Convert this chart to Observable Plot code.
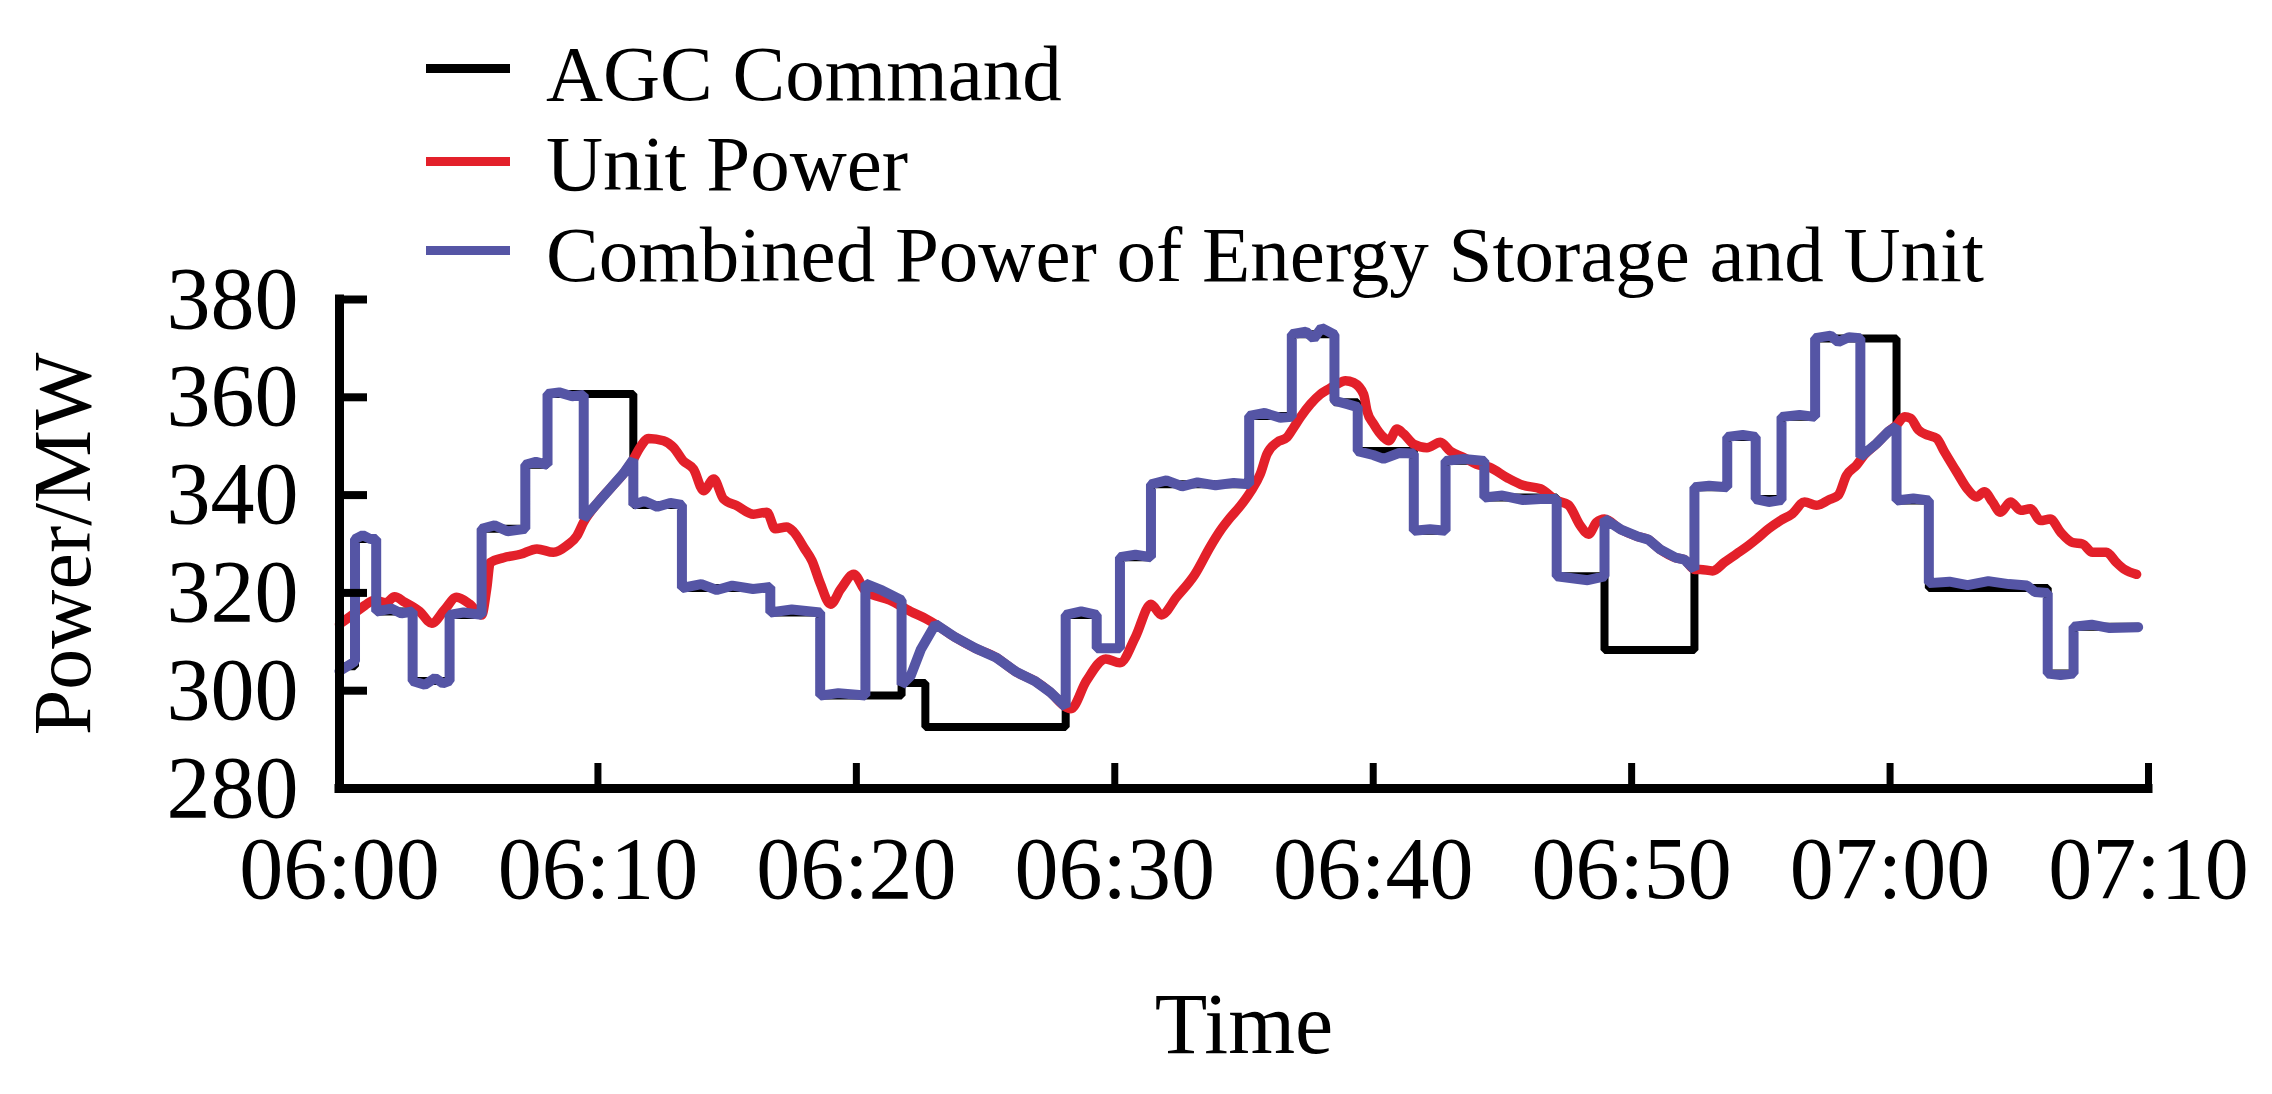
<!DOCTYPE html>
<html><head><meta charset="utf-8">
<script src="https://cdn.jsdelivr.net/npm/d3@7"></script>
<script src="https://cdn.jsdelivr.net/npm/@observablehq/plot@0.6"></script>
<style>
html,body{margin:0;padding:0;background:#fff;}
#wrap{position:relative;width:2272px;height:1094px;font-family:"Liberation Serif","Times New Roman",serif;overflow:hidden;}
#chart{position:absolute;left:0;top:0;}
.sw{position:absolute;left:426px;width:84px;height:9px;}
.lt{position:absolute;left:546px;font-size:79px;line-height:80px;white-space:nowrap;color:#000;}
</style></head><body>
<div id="wrap"><div id="chart"></div><div id="legend"></div></div>
<script>
// ---- tick labels ----
const xTicks = [0, 10, 20, 30, 40, 50, 60, 70];
const xTickLabels = ["06:00", "06:10", "06:20", "06:30", "06:40", "06:50", "07:00", "07:10"];
const yTicks = [280, 300, 320, 340, 360, 380];

// ---- series names / colours ----
const seriesNames = ["AGC Command", "Unit Power", "Combined Power of Energy Storage and Unit"];
const seriesColors = ["#000000", "#e3202a", "#5555a5"];

// ---- AGC command (step function, minutes after 06:00) ----
const agcTime  = [0, 0.6, 1.42, 2.83, 4.26, 5.5, 7.19, 8.05, 11.37, 13.25, 16.67, 18.6, 21.75, 22.67, 28.1, 29.3, 30.2, 31.4, 35.2, 36.85, 38.5, 39.4, 41.57, 42.8, 44.3, 47.1, 48.95, 52.43, 53.7, 54.8, 55.8, 57.1, 60.25, 61.5, 66.1, 67.1, 69.6];
const agcValue = [305, 331, 316.2, 302, 315.5, 333.1, 346.2, 360.7, 338, 321, 316, 299, 301.6, 292.6, 315.5, 308.7, 327.3, 342.2, 356.2, 372.9, 359, 349, 332.7, 347, 339.5, 323.4, 308.3, 341.6, 351.9, 339.2, 356, 372, 338.9, 321, 303.5, 313.1, 313.1];

// ---- Unit power ----
const unitTime  = [0, 0.5, 1.0, 1.36, 1.8, 2.13, 2.52, 3.1, 3.57, 4.07, 4.53, 5.04, 5.5, 5.7, 5.83, 6.35, 7.0, 7.64, 8.28, 8.8, 9.19, 9.45, 10.0, 10.5, 11.0, 11.37, 11.6, 11.96, 12.54, 12.93, 13.3, 13.7, 14.09, 14.48, 14.86, 15.38, 16.02, 16.54, 16.86, 17.3, 17.57, 18.0, 18.28, 18.6, 19.0, 19.4, 19.9, 20.35, 21.3, 22.1, 22.7, 23.06, 23.8, 24.6, 25.4, 26.2, 26.9, 27.5, 28.1, 28.3, 28.9, 29.65, 30.2, 30.8, 31.4, 31.8, 32.4, 33.1, 33.7, 34.08, 34.47, 34.86, 35.24, 35.63, 35.89, 36.28, 36.66, 36.92, 37.18, 37.57, 37.95, 38.28, 38.6, 38.92, 39.24, 39.63, 39.76, 40.02, 40.4, 40.6, 40.92, 41.18, 41.57, 42.08, 42.6, 42.98, 43.5, 44.0, 44.5, 45.2, 45.8, 46.47, 47.09, 47.55, 48.02, 48.33, 48.64, 48.95, 49.57, 50.2, 50.65, 51.1, 51.7, 52.04, 52.43, 52.66, 53.13, 53.6, 54.06, 54.52, 54.83, 55.3, 55.76, 56.22, 56.69, 57.15, 57.62, 58.0, 58.31, 58.7, 59.0, 59.47, 59.94, 60.25, 60.56, 60.79, 61.1, 61.49, 61.8, 62.1, 62.57, 63.03, 63.34, 63.65, 63.96, 64.27, 64.66, 65.05, 65.43, 65.82, 66.2, 66.6, 67.06, 67.45, 67.83, 68.37, 68.76, 69.07, 69.54];
const unitValue = [313.6, 315.5, 317.5, 318.5, 318, 319.2, 318.1, 316.2, 313.8, 316.6, 319.1, 317.7, 315.5, 321, 326.2, 327.2, 327.9, 329, 328.3, 329.7, 331.7, 334.5, 338.5, 341.5, 344.5, 347.3, 349.5, 351.6, 351.1, 349.7, 347, 345.3, 340.9, 343.3, 339.2, 337.8, 336.1, 336.5, 333.1, 333.5, 332.5, 329, 326.6, 322, 317.7, 320.8, 323.8, 320.4, 318.5, 316.2, 314.7, 313.6, 311, 308.7, 306.8, 303.8, 302, 299.7, 296.7, 296.3, 302, 306.5, 305.7, 311, 317.7, 315.5, 319.2, 323.8, 329.5, 332.7, 335.4, 337.8, 340.6, 344.3, 348.4, 350.8, 351.8, 353.8, 355.9, 358.6, 360.6, 361.7, 362.7, 363.4, 363, 360.6, 357.2, 354.5, 351.8, 351.1, 353.5, 352.5, 350.4, 349.7, 350.8, 349, 347.7, 346.3, 345.7, 343.5, 342, 341.3, 338.9, 338, 333.7, 332, 334.4, 335.1, 333, 331.6, 330.9, 328.9, 327.2, 326.8, 324.8, 324.8, 324.5, 326.3, 328, 329.7, 331, 333.1, 334.8, 336.2, 338.6, 337.9, 339, 340, 344, 346.1, 348.2, 350.5, 353, 354.3, 356, 355.7, 353.3, 352.2, 351.6, 348.9, 344.8, 341, 339.6, 340.7, 338.6, 336.5, 338.6, 336.9, 337.2, 334.8, 335.1, 332.4, 330.3, 330, 328.3, 328.3, 326.2, 324.8, 323.8];

// ---- Combined power of energy storage and unit ----
const combTime  = [0, 0.3, 0.6, 0.6, 0.9, 1.2, 1.42, 1.42, 2.0, 2.4, 2.83, 2.83, 3.3, 3.7, 4.0, 4.26, 4.26, 4.8, 5.5, 5.5, 6.0, 6.5, 7.19, 7.19, 7.6, 8.05, 8.05, 8.5, 9.0, 9.45, 9.45, 10.0, 10.5, 11.0, 11.37, 11.37, 11.8, 12.3, 12.8, 13.25, 13.25, 14.0, 14.6, 15.2, 16.0, 16.67, 16.67, 17.5, 18.6, 18.6, 19.3, 20.35, 20.35, 21.0, 21.75, 21.75, 22.1, 22.5, 23.06, 23.8, 24.6, 25.4, 26.2, 26.9, 27.5, 28.1, 28.1, 28.7, 29.3, 29.3, 30.2, 30.2, 30.8, 31.4, 31.4, 32.0, 32.6, 33.2, 33.9, 34.6, 35.2, 35.2, 35.8, 36.4, 36.85, 36.85, 37.4, 37.7, 38.0, 38.5, 38.5, 39.0, 39.4, 39.4, 40.0, 40.4, 41.0, 41.57, 41.57, 42.2, 42.8, 42.8, 43.5, 44.3, 44.3, 45.0, 45.8, 46.47, 47.1, 47.1, 47.7, 48.3, 48.95, 48.95, 49.57, 50.2, 50.65, 51.1, 51.7, 52.04, 52.43, 52.43, 53.0, 53.7, 53.7, 54.3, 54.8, 54.8, 55.3, 55.8, 55.8, 56.5, 57.1, 57.1, 57.7, 58.0, 58.4, 58.85, 58.85, 59.47, 59.94, 60.25, 60.25, 60.9, 61.5, 61.5, 62.3, 63.0, 63.8, 64.6, 65.3, 65.6, 66.1, 66.1, 66.6, 67.1, 67.1, 67.8, 68.5, 69.6];
const combValue = [304, 305, 306, 331, 331.8, 331, 331, 316.2, 316.8, 315.8, 316.2, 302, 301.2, 302.6, 301.5, 302, 315.5, 316, 315.5, 333.1, 333.8, 332.6, 333.1, 346.2, 346.8, 346.2, 360.7, 361, 360.2, 360.5, 335.2, 338.5, 341.5, 344.5, 347.3, 338, 338.8, 337.6, 338.4, 338, 321, 321.8, 320.6, 321.5, 320.8, 321.2, 316, 316.6, 316, 299, 299.5, 299, 321.9, 320.5, 318.5, 301.2, 303, 308.5, 313.6, 311, 308.7, 306.8, 303.8, 302, 299.7, 296.7, 315.5, 316.2, 315.5, 308.7, 308.7, 327.3, 327.8, 327.3, 342.2, 343, 341.8, 342.6, 342, 342.5, 342.2, 356.2, 356.8, 355.8, 356, 372.9, 373.4, 372, 374.2, 372.8, 359.3, 358.6, 358, 349, 348.2, 347.4, 348.6, 348.5, 332.7, 333, 332.7, 347, 347.4, 347, 339.5, 339.9, 339, 339.2, 339.2, 323.4, 323, 322.6, 323.4, 335.1, 333, 331.6, 330.9, 328.9, 327.2, 326.8, 324.8, 341.6, 341.9, 341.6, 351.9, 352.3, 351.9, 339.2, 338.6, 339, 356, 356.4, 356, 372.1, 372.6, 371.3, 372.3, 372.1, 347.8, 350.5, 353, 354, 338.9, 339.3, 338.9, 322, 322.3, 321.6, 322.4, 321.8, 321.5, 320.2, 320, 303.5, 303.2, 303.5, 313.1, 313.5, 312.8, 313];

// ---- build tables ----
const toRows = (ts, vs) => ts.map((t, i) => ({t, v: vs[i]}));
const agc = toRows(agcTime, agcValue);
const unit = toRows(unitTime, unitValue);
const comb = toRows(combTime, combValue);

const plot = Plot.plot({
  width: 2272,
  height: 1094,
  marginLeft: 339,
  marginRight: 124,
  marginTop: 299,
  marginBottom: 306,
  x: {domain: [0, 70]},
  y: {domain: [280, 380]},
  style: {fontFamily: "'Liberation Serif', 'Times New Roman', serif", background: "white", color: "black"},
  marks: [
    Plot.line(agc, {x: "t", y: "v", curve: "step-after", stroke: seriesColors[0], strokeWidth: 8, strokeLinejoin: "miter"}),
    Plot.line(unit, {x: "t", y: "v", curve: "monotone-x", stroke: seriesColors[1], strokeWidth: 9.5}),
    Plot.line(comb, {x: "t", y: "v", stroke: seriesColors[2], strokeWidth: 10, strokeLinejoin: "miter"}),
    Plot.ruleX([0], {stroke: "black", strokeWidth: 9, strokeLinecap: "square"}),
    Plot.ruleY([280], {stroke: "black", strokeWidth: 9, strokeLinecap: "square"}),
    Plot.axisY({ticks: yTicks.slice(1), tickSize: -28, strokeWidth: 8, fill: "none", label: null}),
    Plot.axisY({ticks: yTicks, tickSize: 0, tickPadding: 41, fontSize: 88, label: null}),
    Plot.axisX({ticks: xTicks.slice(1), tickSize: -25, strokeWidth: 7, fill: "none", label: null}),
    Plot.axisX({ticks: xTicks, tickSize: 0, tickPadding: 47, fontSize: 88, label: null,
      tickFormat: (d) => xTickLabels[xTicks.indexOf(d)]}),
    Plot.text(["Power/MW"], {text: (d) => d, frameAnchor: "left", textAnchor: "middle", rotate: -90, dx: -276, fontSize: 82, lineAnchor: "middle"}),
    Plot.text(["Time"], {text: (d) => d, frameAnchor: "bottom", textAnchor: "middle", dy: 237, fontSize: 86, lineAnchor: "middle"})
  ]
});
document.getElementById("chart").appendChild(plot);

// ---- legend (HTML, overlaid above the plot area) ----
const legend = document.getElementById("legend");
const swatchCenters = [68, 161, 250];
const textTops = [34, 124, 215];
seriesNames.forEach((name, i) => {
  const sw = document.createElement("div");
  sw.className = "sw";
  sw.style.top = (swatchCenters[i] - 4.5) + "px";
  sw.style.background = seriesColors[i];
  legend.appendChild(sw);
  const tx = document.createElement("div");
  tx.className = "lt";
  tx.style.top = textTops[i] + "px";
  tx.textContent = name;
  legend.appendChild(tx);
});
</script>
</body></html>
